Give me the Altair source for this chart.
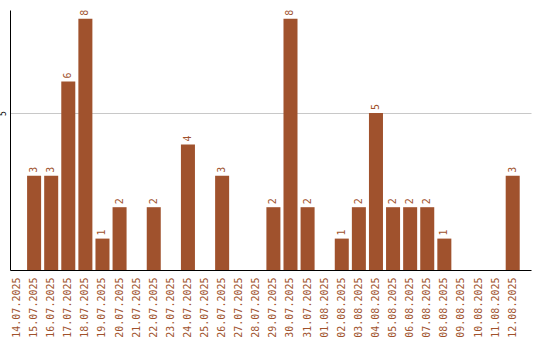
import altair as alt
import pandas as pd

dates = ["14.07.2025", "15.07.2025", "16.07.2025", "17.07.2025", "18.07.2025",
         "19.07.2025", "20.07.2025", "21.07.2025", "22.07.2025", "23.07.2025",
         "24.07.2025", "25.07.2025", "26.07.2025", "27.07.2025", "28.07.2025",
         "29.07.2025", "30.07.2025", "31.07.2025", "01.08.2025", "02.08.2025",
         "03.08.2025", "04.08.2025", "05.08.2025", "06.08.2025", "07.08.2025",
         "08.08.2025", "09.08.2025", "10.08.2025", "11.08.2025", "12.08.2025"]
counts = [0, 3, 3, 6, 8, 1, 2, 0, 2, 0, 4, 0, 3, 0, 0,
          2, 8, 2, 0, 1, 2, 5, 2, 2, 2, 1, 0, 0, 0, 3]

df = pd.DataFrame({"date": dates, "count": counts})
color = "#a0522d"
font = "DejaVu Sans Mono"

x = alt.X("date:N", sort=dates, title=None,
          scale=alt.Scale(paddingInner=0.18, paddingOuter=0.33, align=0),
          axis=alt.Axis(labelAngle=270, labelColor=color, labelFont=font,
                        labelFontSize=10, ticks=False, labelPadding=7,
                        domainColor="black", domainWidth=1))
y = alt.Y("count:Q", title=None,
          scale=alt.Scale(domain=[0, 8.28], nice=False),
          axis=alt.Axis(values=[5], labelAngle=270, labelAlign="center",
                        labelBaseline="bottom", labelPadding=3, ticks=False,
                        labelFont=font, labelFontSize=8, labelColor="black",
                        domainColor="black", domainWidth=1,
                        gridColor="#c8c8c8", gridWidth=1))

bars = alt.Chart(df).mark_bar(color=color).encode(x=x, y=y)
labels = alt.Chart(df).transform_filter("datum.count > 0").mark_text(
    angle=270, align="left", baseline="middle", dx=3, color=color,
    font=font, fontSize=10
).encode(x=alt.X("date:N", sort=dates), y="count:Q", text="count:Q")

chart = (bars + labels).properties(
    width=521, height=260,
    autosize=alt.AutoSizeParams(type="none"),
    padding={"left": 10, "top": 10, "right": 9, "bottom": 70},
).configure_view(stroke=None).configure_axis(grid=True).configure_axisX(grid=False)

chart.save("out.html", embed_options={"renderer": "svg", "actions": False})
